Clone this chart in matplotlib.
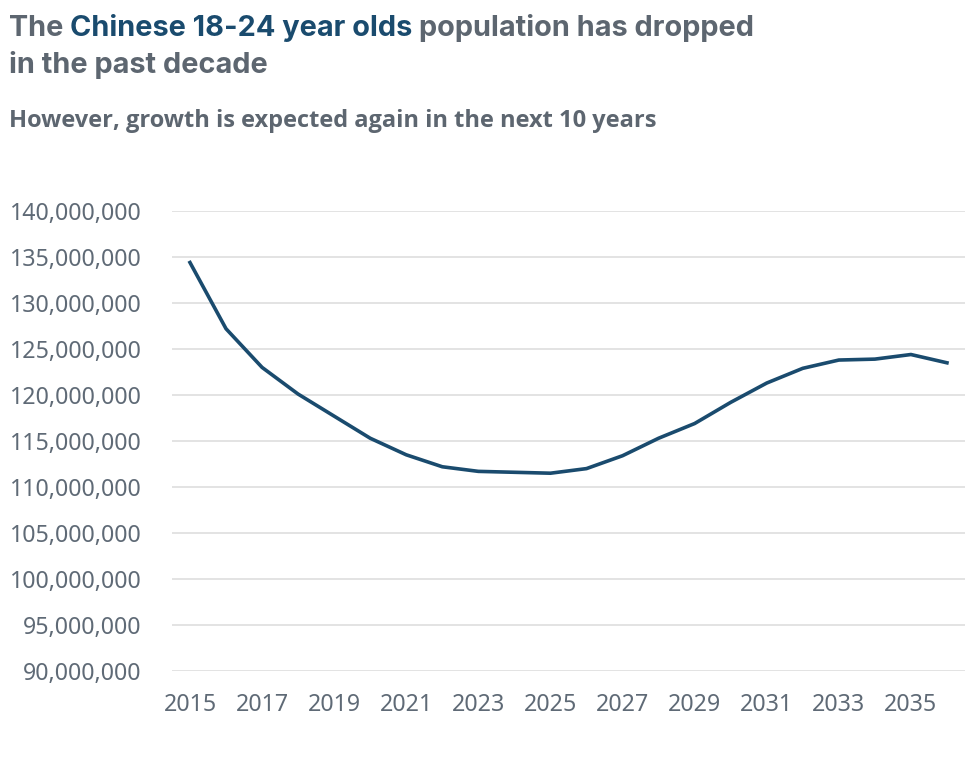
import matplotlib
matplotlib.use('Agg')
import matplotlib.pyplot as plt
from matplotlib.ticker import FuncFormatter

years = list(range(2015, 2037))
population = [134.4, 127.2, 123.0, 120.1, 117.7, 115.3, 113.5, 112.2, 111.7, 111.6, 111.5,
              112.0, 113.4, 115.3, 116.9, 119.2, 121.3, 122.9, 123.8, 123.9, 124.4, 123.5]
population = [p * 1e6 for p in population]
y_ticks = [90e6, 95e6, 100e6, 105e6, 110e6, 115e6, 120e6, 125e6, 130e6, 135e6, 140e6]
x_ticks = list(range(2015, 2037, 2))

BLUE = '#1a4b6e'
GREY = '#5d6670'
TICK = '#5f6a76'
GRID = '#dedede'


def main():
    fig = plt.figure(figsize=(9.77, 7.72), dpi=100)
    ax = fig.add_axes([0.176, 0.1308, 0.8117, 0.5959])

    ax.plot(years, population, color=BLUE, linewidth=2.6, clip_on=False,
            solid_joinstyle='miter')
    ax.set_xlim(2014.5, 2036.5)
    ax.set_ylim(90e6, 140e6)
    ax.set_yticks(y_ticks)
    ax.set_xticks(x_ticks)
    ax.yaxis.set_major_formatter(FuncFormatter(lambda v, _: f'{int(v):,}'))
    ax.grid(axis='y', color=GRID, linewidth=1.2)
    ax.set_axisbelow(True)
    for s in ax.spines.values():
        s.set_visible(False)
    ax.tick_params(length=0, labelsize=16.7, labelcolor=TICK)
    ax.tick_params(axis='y', pad=22)
    ax.tick_params(axis='x', pad=16)
    for lab in ax.get_xticklabels() + ax.get_yticklabels():
        lab.set_fontfamily('Noto Sans')

    tfont = dict(family='Inter', weight='bold', size=20.8)
    t1 = fig.text(0.009, 0.954, 'The ', color=GREY, va='baseline', **tfont)
    t2 = ax.annotate('Chinese 18-24 year olds ', xy=(1, 0), xycoords=t1,
                     va='bottom', color=BLUE, annotation_clip=False, **tfont)
    ax.annotate('population has dropped', xy=(1, 0), xycoords=t2,
                va='bottom', color=GREY, annotation_clip=False, **tfont)
    fig.text(0.009, 0.906, 'in the past decade', color=GREY, va='baseline', **tfont)
    fig.text(0.009, 0.836, 'However, growth is expected again in the next 10 years',
             color=GREY, va='baseline', family='Open Sans', weight='bold', size=17)

    fig.savefig('out.png', dpi=100, facecolor='white')


if __name__ == '__main__':
    main()
